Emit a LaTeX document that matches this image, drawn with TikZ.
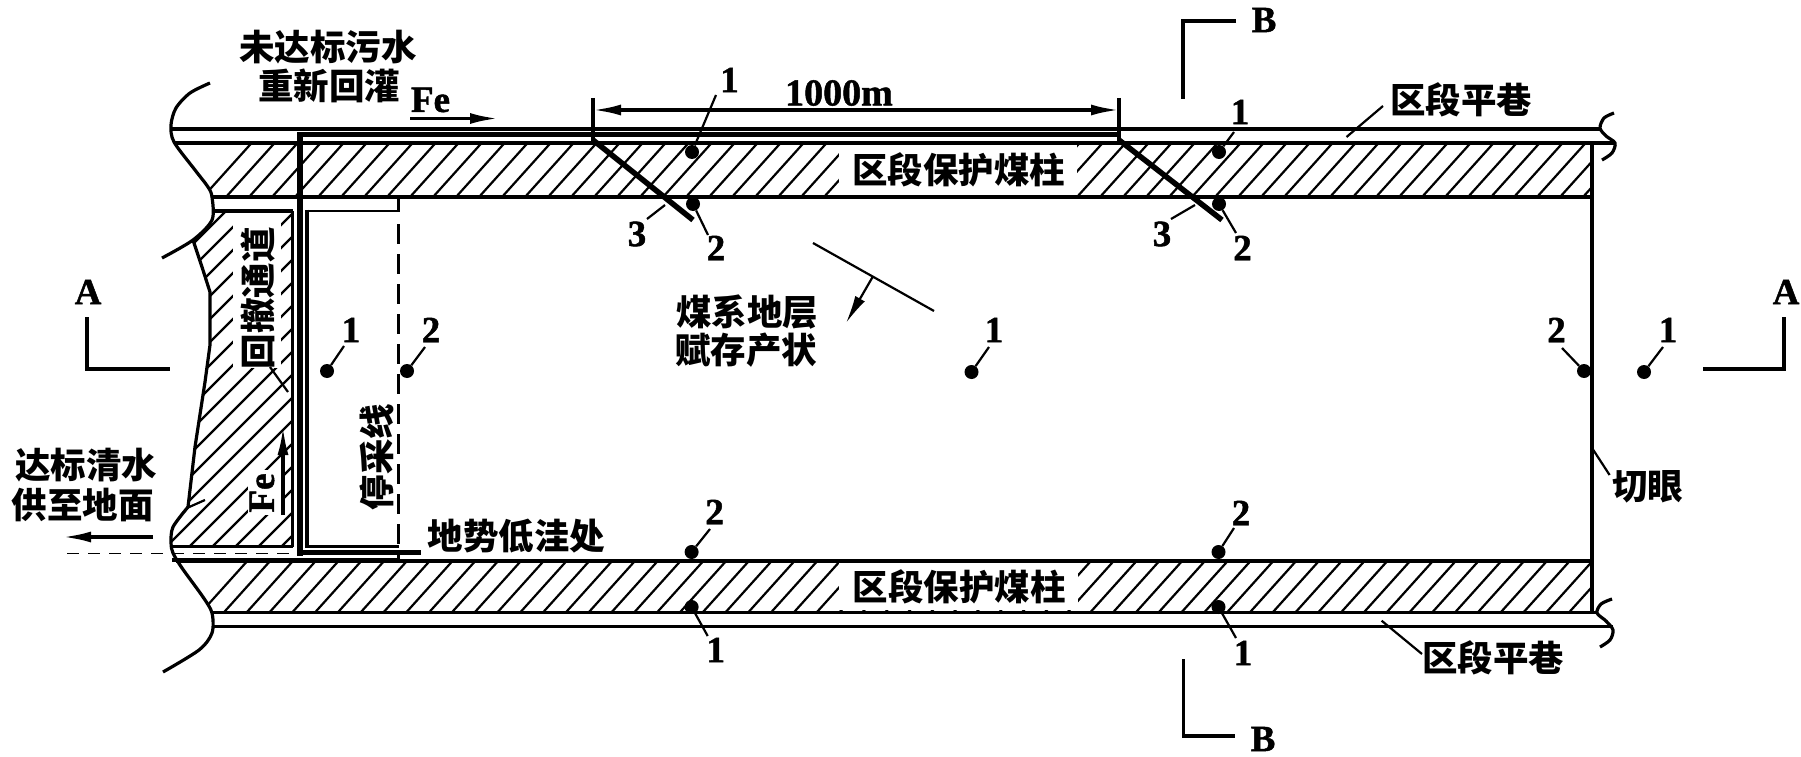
\documentclass[tikz,border=0pt]{standalone}
\usepackage{fontspec}
\usetikzlibrary{arrows.meta}
\setmainfont{Liberation Serif}[BoldFeatures={FakeBold=1.3}]
\newfontfamily\cjk{Noto Sans CJK SC}
\tikzset{
  ln/.style={line width=3.2pt,line cap=butt},
  thin ln/.style={line width=2.2pt},
  thick ln/.style={line width=5pt,line join=miter},
  hatch/.style={line width=2.2pt},
  cn/.style={font=\cjk\bfseries\fontsize{35.5}{36}\selectfont,inner sep=0pt},
  lat/.style={font=\bfseries\fontsize{37}{38}\selectfont,inner sep=0pt},
  pt/.style={circle,fill=black,inner sep=0pt,minimum size=14pt},
  tip/.style={-{Latex[length=28pt,width=11pt]}},
}
\newcommand{\mk}[6]{% name, dot, leader end, label pos, text
  \node[pt] (d#1) at (#2,#3) {};
  \coordinate (e#1) at (#4);
  \node[lat] (l#1) at (#5) {#6};
  \draw[thin ln] (d#1) -- (e#1);
}
\begin{document}
\begin{tikzpicture}[x=1pt,y=-1pt]
\useasboundingbox (0,0) rectangle (1801,757);
% hatching
\begin{scope}
  \clip (174,143) -- (1592,143) -- (1592,197) -- (212,197) -- (208,187) -- (195,170) -- cycle;
  \foreach \x in {203,226,...,1600} \draw[hatch] (\x,197) -- ++(48.6,-54);
\end{scope}
\begin{scope}
  \clip (176,561) -- (1592,561) -- (1592,612) -- (212,612) -- (203,597) -- (182,568) -- cycle;
  \foreach \x in {201.4,224.2,...,1595} \draw[hatch] (\x,612) -- ++(45.9,-51);
\end{scope}
\begin{scope}
  \clip (212,211) -- (293,211) -- (293,546) -- (171,546) -- (173,527) -- (188,507) -- (195,447) -- (205,382) -- (210,345) -- (210,292) -- (202,267) -- (193,240) -- (212,220) -- cycle;
  \foreach \c in {437,460,...,850} \draw[hatch] ({\c-205},205) -- ({\c-550},550);
\end{scope}
% cleared text areas
\fill[white] (839,145) rectangle (1077,195);
\fill[white] (839,563) rectangle (1078,610);
\fill[white] (233,212) rectangle (281,368);
\fill[white] (248,470) rectangle (282,515);
% gateroads
\draw[ln] (172,129) -- (1600,129);
\draw[ln] (174,143) -- (1614,143);
\draw[ln] (212,197) -- (1592,197);
\draw[ln] (176,561) -- (1592,561);
\draw[ln] (212,612.5) -- (1598,612.5);
\draw[ln] (212,626.7) -- (1613,626.7);
\draw[line width=3.8pt] (1592,143) -- (1592,614);
% break lines
\draw[ln,line join=round] plot[smooth] coordinates {(210,83) (190,93) (176,108) (171,125) (174,142) (195,170) (208,187) (212,197) (212,220) (193,240) (162,258)};
\draw[ln,line join=round] (193,240) -- (202,267) -- (210,292) -- (210,345) -- (205,382) -- (195,447) -- (188,507);
\draw[ln,line join=round] plot[smooth] coordinates {(188,507) (173,527) (171,543) (173,553) (182,568) (203,597) (212,613) (212,633) (199,650) (163,672)};
\draw[thin ln] (187,508) -- (205,500);
\draw[ln] plot[smooth] coordinates {(1614,113) (1604,118) (1600,128) (1606,136) (1615,143) (1612,153) (1602,160)};
\draw[ln] plot[smooth] coordinates {(1612,599) (1601,604) (1597,613) (1606,621) (1613,630) (1610,640) (1600,647)};
% retreat channel
\draw[ln] (212,211) -- (293,211);
\draw[ln] (292.5,211) -- (292.5,546.5);
\draw[ln] (172,546.5) -- (292.5,546.5);
\draw[ln] (172,560) -- (398,560);
\draw[thin ln] (307,210.7) -- (398.5,210.7);
\draw[ln] (307,209.5) -- (307,547.5);
\draw[ln] (307,546.5) -- (398.5,546.5);
\draw[line width=1pt,dash pattern=on 12pt off 9pt] (67,553) -- (295,553);
% stop line
\draw[line width=3.5pt] (398.5,197) -- (398.5,212);
\draw[line width=3.5pt,dash pattern=on 20pt off 10pt] (398.5,224) -- (398.5,562);
% pipe
\draw[line width=6.5pt] (300,132.5) -- (300,555.5);
\draw[thick ln] (297,135) -- (1119,135);
\draw[line width=5pt] (297,552.7) -- (421,552.7);
\draw[line width=5.5pt] (593,140) -- (693,220);
\draw[line width=5.5pt] (1119,140) -- (1222,220);
% dimension
\coordinate (dimL) at (593,110);
\coordinate (dimR) at (1119,110);
\draw[ln] (593,98) -- (593,143);
\draw[ln] (1119,98) -- (1119,143);
\draw[ln,tip] (839,110) -- (dimL);
\draw[ln,tip] (839,110) -- (dimR);
\node[lat,font=\bfseries\fontsize{38}{39}\selectfont] (dimT) at (839,93) {1000m};
% section marks
\draw[ln] (87,317) -- (87,369) -- (170,369);
\node[lat] (AL) at (88,292) {A};
\draw[ln] (1784,317) -- (1784,369) -- (1703,369);
\node[lat] (AR) at (1786,292) {A};
\draw[ln] (1236,21) -- (1183,21) -- (1183,99);
\node[lat] (BT) at (1264,20) {B};
\draw[ln] (1183.5,659) -- (1183.5,736) -- (1235,736);
\node[lat] (BB) at (1263,739) {B};
% dots
\mk{a}{692}{152}{716,95}{729.5,80}{1}
\mk{b}{693}{204}{708,235}{716,248}{2}
\mk{c}{1219}{152}{1234,132}{1240,112}{1}
\mk{d}{1219}{204}{1236,233}{1242.5,248}{2}
\mk{e}{327}{371}{344,346}{351,330}{1}
\mk{f}{407}{371}{425,347}{431,330}{2}
\mk{g}{971.5}{372}{989,347}{994,330}{1}
\mk{h}{1584}{371}{1562,348}{1556.5,330}{2}
\mk{i}{1644}{372}{1663,347}{1668,330}{1}
\mk{j}{691.6}{552}{710,529}{714.6,512}{2}
\mk{k}{691.6}{607}{707.7,636}{715.7,650}{1}
\mk{m}{1218.5}{552}{1234,528}{1241,513}{2}
\mk{n}{1218.5}{607}{1236,638}{1243,653}{1}
% labels 3
\node[lat] (t3a) at (637,234) {3};
\coordinate (p3a) at (665,205);
\draw[thin ln] (647,219) -- (p3a);
\node[lat] (t3b) at (1162,234) {3};
\coordinate (p3b) at (1195,205);
\draw[thin ln] (1171,219) -- (p3b);
% texts
\node[cn] (tA) at (328,47) {未达标污水};
\node[cn] (tB) at (329,86) {重新回灌};
\node[lat] (fe1) at (430.5,100) {Fe};
\draw[ln,tip] (410,118.5) -- (498,118.5);
\node[cn] (pA) at (958.5,170) {区段保护煤柱};
\node[cn] (pB) at (959,587) {区段保护煤柱};
\node[cn,rotate=90] (tH) at (258,298) {回撤通道};
\node[lat,rotate=90] (fe2) at (262,493) {Fe};
\draw[ln,tip] (283,515) -- (283,427);
\node[cn,rotate=90] (tS) at (377,457) {停采线};
\node[cn] (tL) at (516.5,536) {地势低洼处};
\node[cn] (tC) at (86,465) {达标清水};
\node[cn] (tD) at (82.6,505) {供至地面};
\draw[ln,tip] (153,537) -- (63,537);
\node[cn] (tM) at (747,312) {煤系地层};
\node[cn] (tN) at (746,350) {赋存产状};
\coordinate (s1) at (813,243);
\coordinate (s2) at (934,311);
\coordinate (s3) at (872.6,277);
\coordinate (s4) at (846,323);
\draw[thin ln] (s1) -- (s2);
\draw[thin ln,tip] (s3) -- (s4);
\node[cn] (rT) at (1461,100) {区段平巷};
\coordinate (rT1) at (1346.5,137);
\draw[thin ln] (1383,106) -- (rT1);
\node[cn] (rB) at (1493,657.7) {区段平巷};
\coordinate (rB1) at (1381.6,620.7);
\draw[thin ln] (1422,654) -- (rB1);
\node[cn] (tQ) at (1647.6,487) {切眼};
\coordinate (tQ1) at (1592,448);
\draw[thin ln] (1609.6,475) -- (tQ1);
\coordinate (x1) at (270,367);
\coordinate (x2) at (288,392);
\draw[thin ln] (x1) -- (x2);
\end{tikzpicture}
\end{document}
